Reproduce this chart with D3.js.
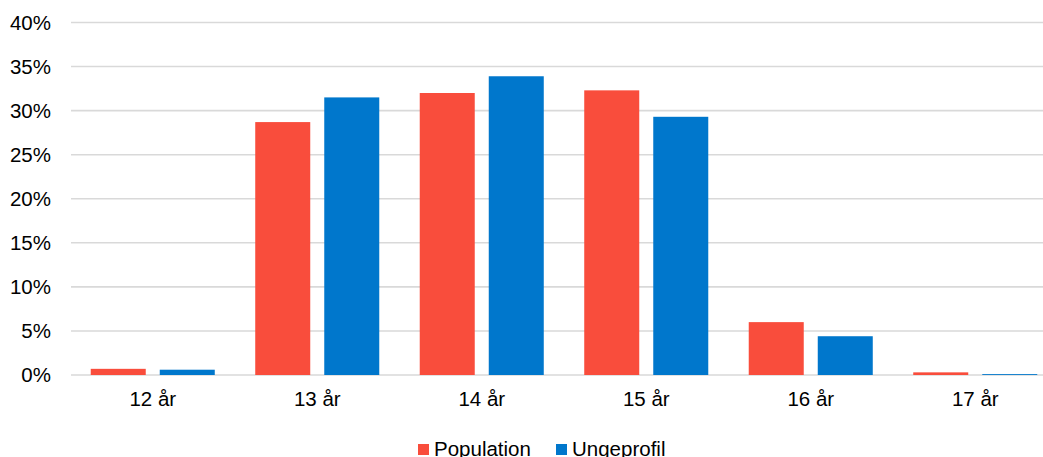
<!DOCTYPE html>
<html>
<head>
<meta charset="utf-8">
<script src="https://cdn.jsdelivr.net/npm/d3@7"></script>
<style>
  html, body { margin: 0; padding: 0; background: #fff; }
  svg { display: block; font-family: "Liberation Sans", Arial, sans-serif; }
</style>
</head>
<body>
<svg id="chart" width="1043" height="457"></svg>
<script>
const categories = ["12 år", "13 år", "14 år", "15 år", "16 år", "17 år"];
const seriesNames = ["Population", "Ungeprofil"];
const population = [0.007, 0.287, 0.320, 0.323, 0.060, 0.003];
const ungeprofil = [0.006, 0.315, 0.339, 0.293, 0.044, 0.001];
const yTicks = [0, 0.05, 0.10, 0.15, 0.20, 0.25, 0.30, 0.35, 0.40];
const colors = ["#f94d3c", "#0077cc"];

const svg = d3.select("#chart");
const W = 1043, H = 457;

const y = d3.scaleLinear().domain([0, 0.4]).range([375, 22.5]);
const x0 = d3.scaleBand().domain(categories).range([70.5, 1057.5])
  .paddingInner(0.246).paddingOuter(0.123);
const x1 = d3.scaleBand().domain(seriesNames).range([0, x0.bandwidth()])
  .paddingInner(0.203).paddingOuter(0);
const color = d3.scaleOrdinal().domain(seriesNames).range(colors);

// gridlines
svg.append("g").selectAll("line").data(yTicks).join("line")
  .attr("x1", 71).attr("x2", W)
  .attr("y1", d => y(d)).attr("y2", d => y(d))
  .attr("stroke", "#d9d9d9").attr("stroke-width", 1.6);

// y axis labels
const yAxis = d3.axisLeft(y).tickValues(yTicks).tickFormat(d3.format(".0%")).tickSize(0).tickPadding(0);
const gy = svg.append("g").attr("transform", "translate(51,0)").call(yAxis);
gy.select(".domain").remove();
gy.selectAll("text").attr("font-size", 20.5).attr("fill", "#000")
  .attr("font-family", "'Liberation Sans', Arial, sans-serif");

// bars
const data = categories.map((c, i) => ({cat: c, vals: [
  {s: seriesNames[0], v: population[i]},
  {s: seriesNames[1], v: ungeprofil[i]}
]}));
svg.append("g").selectAll("g").data(data).join("g")
  .attr("transform", d => `translate(${x0(d.cat)},0)`)
  .selectAll("rect").data(d => d.vals).join("rect")
  .attr("x", d => x1(d.s)).attr("width", x1.bandwidth())
  .attr("y", d => y(d.v)).attr("height", d => y(0) - y(d.v))
  .attr("fill", d => color(d.s));

// x axis labels
const xAxis = d3.axisBottom(x0).tickSize(0).tickPadding(0);
const gx = svg.append("g").attr("transform", "translate(0,391)").call(xAxis);
gx.select(".domain").remove();
gx.selectAll("text").attr("font-size", 20.5).attr("fill", "#000")
  .attr("dy", "0.71em")
  .attr("font-family", "'Liberation Sans', Arial, sans-serif");

// legend
const legendItems = [{s: seriesNames[0], x: 418}, {s: seriesNames[1], x: 556}];
const lg = svg.append("g");
legendItems.forEach(it => {
  lg.append("rect").attr("x", it.x).attr("y", 444).attr("width", 11).attr("height", 11)
    .attr("fill", color(it.s));
  lg.append("text").attr("x", it.x + 16).attr("y", 456)
    .attr("font-size", 20.5).attr("fill", "#000").text(it.s);
});
</script>
</body>
</html>
